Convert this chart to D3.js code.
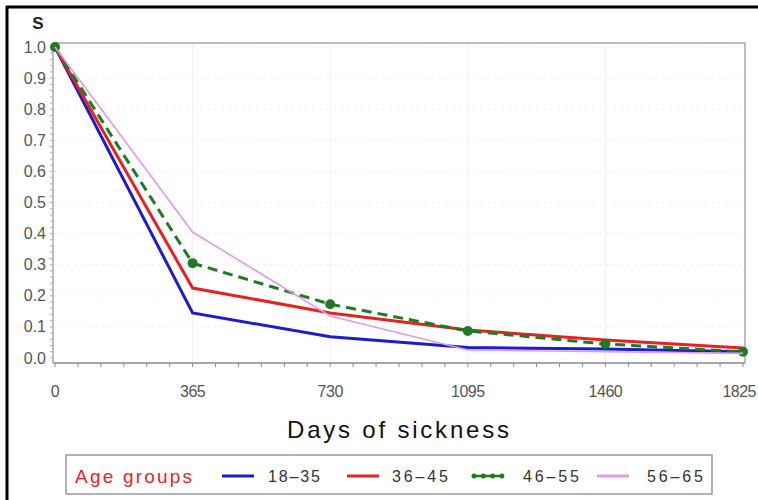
<!DOCTYPE html>
<html>
<head>
<meta charset="utf-8">
<script src="https://cdn.jsdelivr.net/npm/d3@7"></script>
<style>
  body { margin: 0; background: #fff; }
  #chart { width: 758px; height: 500px; }
  text { font-family: "Liberation Sans", Arial, sans-serif; }
</style>
</head>
<body>
<div id="chart"></div>
<script>
// survival by age group
const days = [0, 365, 730, 1095, 1460, 1825];
const age18to35 = [1.0, 0.145, 0.068, 0.034, 0.029, 0.020];
const age36to45 = [1.0, 0.225, 0.145, 0.090, 0.058, 0.032];
const age46to55 = [1.0, 0.305, 0.173, 0.087, 0.045, 0.020];
const age56to65 = [1.0, 0.405, 0.135, 0.026, 0.020, 0.015];
const groupNames = ["18–35", "36–45", "46–55", "56–65"];
const yTicks = [0, 0.1, 0.2, 0.3, 0.4, 0.5, 0.6, 0.7, 0.8, 0.9, 1.0];

const series = [
    { name: groupNames[0], values: age18to35, color: "#1c1ccc", width: 3, dash: null, dots: false },
    { name: groupNames[1], values: age36to45, color: "#e52222", width: 3, dash: null, dots: false },
    { name: groupNames[2], values: age46to55, color: "#1f7a22", width: 3, dash: "10,6", dots: true },
    { name: groupNames[3], values: age56to65, color: "#e39be3", width: 1.6, dash: null, dots: false }
];

const svg = d3.select("#chart").append("svg")
    .attr("width", 758)
    .attr("height", 500);

// frame lines (top + left only)
svg.append("line").attr("x1", 6).attr("x2", 758).attr("y1", 7).attr("y2", 7)
    .attr("stroke", "#000").attr("stroke-width", 3);
svg.append("line").attr("x1", 7).attr("x2", 7).attr("y1", 6).attr("y2", 500)
    .attr("stroke", "#000").attr("stroke-width", 3);

const plot = { left: 53, right: 745, top: 43, bottom: 363 };

const x = d3.scaleLinear().domain([0, 1825]).range([55, 743]);
const y = d3.scaleLinear().domain([0, 1]).range([358, 47]);

// faint grid
svg.append("g")
    .selectAll("line")
    .data(yTicks.slice(1))
    .enter().append("line")
    .attr("x1", plot.left).attr("x2", plot.right)
    .attr("y1", d => y(d)).attr("y2", d => y(d))
    .attr("stroke", "#eeeeee").attr("stroke-dasharray", "3,4");
svg.append("g")
    .selectAll("line")
    .data(days.slice(1, -1))
    .enter().append("line")
    .attr("x1", d => x(d)).attr("x2", d => x(d))
    .attr("y1", plot.top).attr("y2", plot.bottom)
    .attr("stroke", "#efefef");

// plot frame top/right
svg.append("path")
    .attr("d", `M${plot.left},${plot.top}H${plot.right}V${plot.bottom}`)
    .attr("fill", "none").attr("stroke", "#a8a8a8").attr("stroke-width", 1.5);

// x axis
const xMinor = d3.range(0, 1825 + 1, 365 / 6);
const xAxis = svg.append("g")
    .attr("transform", `translate(0,${plot.bottom})`);
xAxis.append("line").attr("x1", plot.left).attr("x2", plot.right)
    .attr("stroke", "#8a8a8a").attr("stroke-width", 1.5);
xAxis.selectAll(".minor")
    .data(xMinor)
    .enter().append("line")
    .attr("x1", d => x(d)).attr("x2", d => x(d))
    .attr("y1", 0).attr("y2", 4)
    .attr("stroke", "#8a8a8a");
// last label would run off the page edge, so pin it to the right
xAxis.selectAll(".lbl")
    .data(days)
    .enter().append("text")
    .attr("x", (d, i) => i === days.length - 1 ? 756 : x(d))
    .attr("y", 34)
    .attr("text-anchor", (d, i) => i === days.length - 1 ? "end" : "middle")
    .attr("font-size", 16)
    .attr("fill", "#555")
    .attr("letter-spacing", -0.5)
    .text(d => d);

// y axis
const yMinor = d3.range(0, 1.0001, 0.02);
const yAxis = svg.append("g");
yAxis.append("line").attr("x1", plot.left).attr("x2", plot.left)
    .attr("y1", plot.top).attr("y2", plot.bottom)
    .attr("stroke", "#a8a8a8").attr("stroke-width", 1.5);
yAxis.selectAll(".minor")
    .data(yMinor)
    .enter().append("line")
    .attr("x1", plot.left - 3).attr("x2", plot.left)
    .attr("y1", d => y(d)).attr("y2", d => y(d))
    .attr("stroke", "#b0b0b0");
yAxis.selectAll(".lbl")
    .data(yTicks)
    .enter().append("text")
    .attr("x", 46)
    .attr("y", d => y(d) + 5.5)
    .attr("text-anchor", "end")
    .attr("font-size", 16)
    .attr("fill", "#555")
    .text(d => d.toFixed(1));

svg.append("text")
    .attr("x", 38).attr("y", 29)
    .attr("text-anchor", "middle")
    .attr("font-size", 17).attr("font-weight", "bold")
    .attr("fill", "#222")
    .text("S");

// lines
const line = d3.line()
    .x((d, i) => x(days[i]))
    .y(d => y(d));

series.forEach(s => {
    svg.append("path")
        .datum(s.values)
        .attr("fill", "none")
        .attr("stroke", s.color)
        .attr("stroke-width", s.width)
        .attr("stroke-dasharray", s.dash)
        .attr("d", line);
    if (s.dots) {
        svg.selectAll(null)
            .data(s.values)
            .enter().append("circle")
            .attr("cx", (d, i) => x(days[i]))
            .attr("cy", d => y(d))
            .attr("r", 5)
            .attr("fill", s.color);
    }
});

// x axis title
svg.append("text")
    .attr("x", 398).attr("y", 438)
    .attr("text-anchor", "middle")
    .attr("font-size", 24)
    .attr("fill", "#111")
    .attr("textLength", 222)
    .attr("lengthAdjust", "spacing")
    .text("Days of sickness");

// legend
const legend = svg.append("g");
legend.append("rect")
    .attr("x", 66).attr("y", 455)
    .attr("width", 646).attr("height", 39)
    .attr("fill", "none").attr("stroke", "#999").attr("stroke-width", 1.5);
legend.append("text")
    .attr("x", 75).attr("y", 483)
    .attr("font-size", 19)
    .attr("fill", "#e8242a")
    .attr("textLength", 117)
    .attr("lengthAdjust", "spacing")
    .text("Age groups");

const legendPos = [
    { line: 222, text: 268 },
    { line: 347, text: 392 },
    { line: 472, text: 523 },
    { line: 597, text: 647 }
];
series.forEach((s, i) => {
    const p = legendPos[i];
    legend.append("line")
        .attr("x1", p.line).attr("x2", p.line + 32)
        .attr("y1", 476).attr("y2", 476)
        .attr("stroke", s.color)
        .attr("stroke-width", s.dots ? 2.5 : 3);
    if (s.dots) {
        legend.selectAll(null)
            .data([0, 1, 2, 3])
            .enter().append("circle")
            .attr("cx", k => p.line + 2 + k * 9.3)
            .attr("cy", 476)
            .attr("r", 2.5)
            .attr("fill", s.color);
    }
    legend.append("text")
        .attr("x", p.text).attr("y", 482)
        .attr("font-size", 16)
        .attr("fill", "#333")
        .attr("textLength", i === 0 ? 52 : 56)
        .attr("lengthAdjust", "spacing")
        .text(s.name);
});
</script>
</body>
</html>
